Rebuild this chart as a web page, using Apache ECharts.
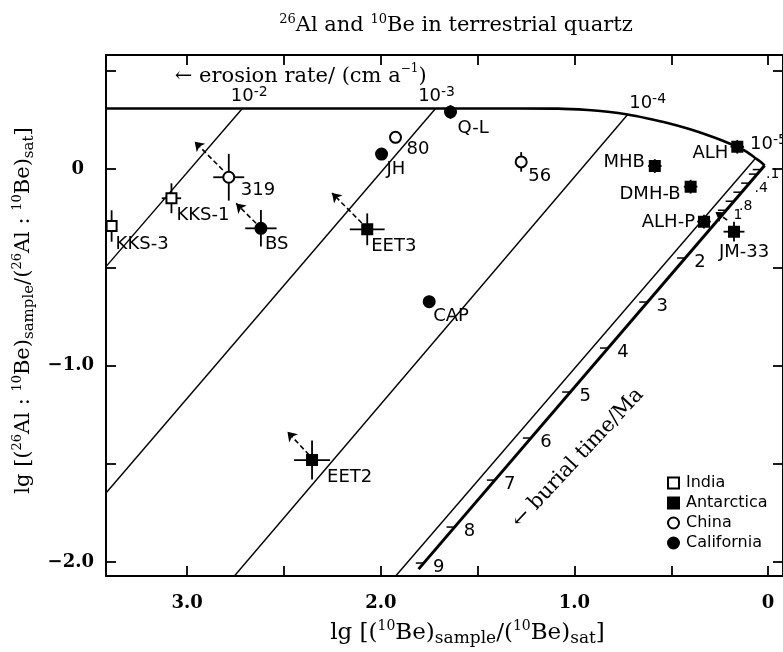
<!DOCTYPE html>
<html><head><meta charset="utf-8">
<script src="https://cdn.jsdelivr.net/npm/echarts@6/dist/echarts.min.js"></script>
<style>html,body{margin:0;padding:0;background:#fff}#chart{width:783px;height:652px}</style>
</head><body><div id="chart"></div>
<script>
// ---------------- data ----------------
const xTickVals = [0, 0.5, 1, 1.5, 2, 2.5, 3];
const xLabelVals = [0, 1, 2, 3];
const yTickVals = [0.5, 0, -0.5, -1, -1.5, -2];
const yLabelVals = [0, -1, -2];

// steady-state erosion curve
const steadyX = [3.419, 2.422, 1.650, 1.290, 1.085, 0.931, 0.828, 0.725, 0.622, 0.519, 0.416, 0.314, 0.237, 0.159, 0.108, 0.067, 0.041, 0.018];
const steadyY = [0.308, 0.308, 0.308, 0.308, 0.307, 0.300, 0.291, 0.277, 0.257, 0.234, 0.206, 0.173, 0.145, 0.112, 0.086, 0.056, 0.038, 0.018];

// erosion-rate burial trajectories (thin lines)
const erosionLabels = ['10^-2', '10^-3', '10^-4', '10^-5'];
const erosionLabelX = [2.679, 1.712, 0.622, 0.093];
const erosionLabelY = [0.377, 0.377, 0.341, 0.132];
const erosionStartX = [2.715, 1.717, 0.725, 0.067];
const erosionStartY = [0.308, 0.308, 0.277, 0.052];
const erosionEndX = [3.419, 3.419, 2.756, 1.923];
const erosionEndY = [-0.497, -1.649, -2.071, -2.071];

// burial line (no erosion, thick)
const burialLineX = [0.018, 1.805];
const burialLineY = [0.018, -2.036];
const burialTickLabels = ['.1', '', '.4', '', '.8', '1', '2', '3', '4', '5', '6', '7', '8', '9'];
const burialTickX = [0.038, 0.058, 0.098, 0.138, 0.178, 0.218, 0.429, 0.624, 0.827, 1.022, 1.225, 1.411, 1.619, 1.778];
const burialTickY = [-0.003, -0.026, -0.072, -0.118, -0.164, -0.210, -0.453, -0.677, -0.911, -1.135, -1.369, -1.583, -1.822, -2.005];

// samples
const indiaNames = ['KKS-3', 'KKS-1'];
const indiaX = [3.390, 3.081];
const indiaY = [-0.290, -0.149];
const indiaXErr = [0, 0.05];
const indiaYErr = [0.08, 0.076];

const antarcticaNames = ['EET3', 'EET2', 'MHB', 'DMH-B', 'ALH', 'ALH-P', 'JM-33'];
const antarcticaX = [2.070, 2.355, 0.585, 0.400, 0.159, 0.331, 0.176];
const antarcticaY = [-0.307, -1.481, 0.015, -0.090, 0.113, -0.268, -0.319];
const antarcticaXErr = [0.090, 0.093, 0.035, 0.035, 0.035, 0.035, 0.054];
const antarcticaYErr = [0.081, 0.099, 0.035, 0.035, 0.035, 0.035, 0.050];

const chinaNames = ['319', '80', '56'];
const chinaX = [2.785, 1.924, 1.275];
const chinaY = [-0.042, 0.161, 0.036];
const chinaXErr = [0.080, 0.025, 0.025];
const chinaYErr = [0.119, 0.030, 0.050];

const californiaNames = ['BS', 'JH', 'Q-L', 'CAP'];
const californiaX = [2.619, 1.996, 1.640, 1.750];
const californiaY = [-0.302, 0.076, 0.290, -0.675];
const californiaXErr = [0.081, 0.030, 0.030, 0.030];
const californiaYErr = [0.093, 0.030, 0.035, 0.030];

// dashed arrows (direction of correction)
const arrowFromX = [2.816, 2.644, 2.098, 2.370, 0.211];
const arrowFromY = [-0.005, -0.276, -0.275, -1.455, -0.260];
const arrowToX = [2.961, 2.747, 2.252, 2.482, 0.272];
const arrowToY = [0.139, -0.175, -0.122, -1.337, -0.219];

// annotation texts
const erosionTitle = 'erosion rate/ (cm a^-1)';
const erosionTitleX = 3.064, erosionTitleY = 0.472;
const burialTitle = 'burial time/Ma';
const burialTitleX = 0.982, burialTitleY = -1.471;

// ---------------- styles ----------------
const SERIF = '"DejaVu Serif", "Liberation Serif", serif';
const SANS = '"DejaVu Sans", "Liberation Sans", sans-serif';
const labelPlace = {
  'KKS-3': [4, 18, 'left'], 'KKS-1': [5, 17, 'left'], '319': [12, 13, 'left'], 'BS': [4, 16, 'left'],
  'EET3': [4, 17, 'left'], 'JH': [5, 15, 'left'], '80': [11, 12, 'left'], 'Q-L': [7, 16, 'left'],
  '56': [7, 14, 'left'], 'CAP': [4, 15, 'left'], 'EET2': [15, 17, 'left'], 'MHB': [-10, -4, 'right'],
  'DMH-B': [-10, 8, 'right'], 'ALH': [-9, 7, 'right'], 'ALH-P': [-9, 1, 'right'], 'JM-33': [-15, 21, 'left']
};

const xMax = 3.419, xMin = -0.077, yMax = 0.580, yMin = -2.071;

const supSubY = {
  n: { fontFamily: SERIF, fontSize: 21, lineHeight: 26, color: '#000' },
  sup: { fontFamily: SERIF, fontSize: 13, lineHeight: 14, verticalAlign: 'top', color: '#000' },
  sub: { fontFamily: SERIF, fontSize: 15, lineHeight: 15, verticalAlign: 'bottom', color: '#000' }
};
const supSubX = {
  n: { fontFamily: SERIF, fontSize: 23, lineHeight: 28, color: '#000' },
  sup: { fontFamily: SERIF, fontSize: 14, lineHeight: 15, verticalAlign: 'top', color: '#000' },
  sub: { fontFamily: SERIF, fontSize: 17, lineHeight: 16, verticalAlign: 'bottom', color: '#000' }
};
function sciSans(t) { // '10^-2' -> rich
  const p = t.split('^');
  return '{b|' + p[0] + '}{s|' + p[1] + '}';
}

function scatterSeries(name, names, xs, ys, symbol, filled) {
  return {
    type: 'scatter', name: name, z: 5,
    symbol: symbol, symbolSize: symbol === 'rect' ? 10 : 11,
    itemStyle: { color: filled ? '#000' : '#fff', borderColor: '#000', borderWidth: 2, opacity: 1 },
    data: names.map((n, i) => {
      const p = labelPlace[n];
      return { name: n, value: [xs[i], ys[i]],
        label: { offset: [p[0], p[1]], align: p[2] } };
    }),
    label: { show: true, position: 'inside', formatter: '{b}', color: '#000',
      fontFamily: SANS, fontSize: 18, verticalAlign: 'middle' },
    emphasis: { disabled: true }
  };
}

const errData = [];
[[indiaX, indiaY, indiaXErr, indiaYErr], [antarcticaX, antarcticaY, antarcticaXErr, antarcticaYErr],
 [chinaX, chinaY, chinaXErr, chinaYErr], [californiaX, californiaY, californiaXErr, californiaYErr]]
  .forEach(g => g[0].forEach((x, i) => errData.push([x, g[1][i], g[2][i], g[3][i]])));

function lineSeries(xs, ys, width) {
  return { type: 'line', data: xs.map((x, i) => [x, ys[i]]), showSymbol: false, symbol: 'none',
    lineStyle: { color: '#000', width: width }, silent: true, z: 2, animation: false };
}

const series = [];
series.push(Object.assign(lineSeries(steadyX, steadyY, 2.6), { smooth: 0.3 }));
erosionStartX.forEach((x, i) => series.push(lineSeries([x, erosionEndX[i]], [erosionStartY[i], erosionEndY[i]], 1.4)));
series.push(lineSeries(burialLineX, burialLineY, 3));

// burial time ticks
series.push({
  type: 'custom', silent: true, z: 3,
  data: burialTickX.map((x, i) => [x, burialTickY[i]]),
  renderItem(params, api) {
    const c = api.coord([api.value(0), api.value(1)]);
    return { type: 'line', shape: { x1: c[0] - 8, y1: c[1], x2: c[0], y2: c[1] },
      style: { stroke: '#000', lineWidth: 1.5 } };
  }
});
// burial tick labels
series.push({
  type: 'scatter', silent: true, symbolSize: 0, z: 6, itemStyle: { opacity: 1 },
  data: burialTickX.map((x, i) => {
    const t = burialTickLabels[i];
    const small = t.startsWith('.') || t === '1';
    return { value: [x, burialTickY[i]], name: t,
      label: { offset: small ? [12, 5] : [15, 4], fontSize: small ? 14 : 18 } };
  }),
  label: { show: true, position: 'inside', formatter: '{b}', color: '#000', fontFamily: SANS }
});

// error bars
series.push({
  type: 'custom', silent: true, z: 4, data: errData,
  renderItem(params, api) {
    const x = api.value(0), y = api.value(1), ex = api.value(2), ey = api.value(3);
    const ch = [];
    if (ex > 0) {
      const a = api.coord([x - ex, y]), b = api.coord([x + ex, y]);
      ch.push({ type: 'line', shape: { x1: a[0], y1: a[1], x2: b[0], y2: b[1] }, style: { stroke: '#000', lineWidth: 1.8 } });
    }
    if (ey > 0) {
      const a = api.coord([x, y - ey]), b = api.coord([x, y + ey]);
      ch.push({ type: 'line', shape: { x1: a[0], y1: a[1], x2: b[0], y2: b[1] }, style: { stroke: '#000', lineWidth: 1.8 } });
    }
    return { type: 'group', children: ch };
  }
});

// dashed arrows
series.push({
  type: 'lines', coordinateSystem: 'cartesian2d', silent: true, z: 4,
  symbol: ['none', 'arrow'], symbolSize: 9,
  lineStyle: { color: '#000', width: 1.6, type: [5, 3], opacity: 1 },
  data: arrowFromX.map((x, i) => ({ coords: [[x, arrowFromY[i]], [arrowToX[i], arrowToY[i]]] }))
});

// annotations
series.push({
  type: 'scatter', silent: true, symbolSize: 0, z: 6, itemStyle: { opacity: 1 },
  data: erosionLabels.map((t, i) => ({ value: [erosionLabelX[i], erosionLabelY[i]], name: t,
    label: { align: i === 3 ? 'left' : 'center' } })),
  label: { show: true, position: 'inside', color: '#000',
    formatter: p => sciSans(p.name),
    rich: { b: { fontFamily: SANS, fontSize: 18, lineHeight: 20, verticalAlign: 'bottom', color: '#000' },
            s: { fontFamily: SANS, fontSize: 14, lineHeight: 14, verticalAlign: 'top', color: '#000' } } }
});
series.push({
  type: 'scatter', silent: true, symbolSize: 0, z: 6, itemStyle: { opacity: 1 },
  data: [{ value: [erosionTitleX, erosionTitleY], name: erosionTitle }],
  label: { show: true, position: 'inside', align: 'left', color: '#000',
    formatter: () => '{n|\u2190 erosion rate/ (cm a}{sup|\u22121}{n|)}',
    rich: { n: { fontFamily: SERIF, fontSize: 21, lineHeight: 26, color: '#000' },
            sup: { fontFamily: SERIF, fontSize: 12, lineHeight: 16, verticalAlign: 'top', color: '#000' } } }
});
series.push({
  type: 'scatter', silent: true, symbolSize: 0, z: 6, itemStyle: { opacity: 1 },
  data: [{ value: [burialTitleX, burialTitleY], name: burialTitle }],
  label: { show: true, position: 'inside', align: 'center', rotate: 47, color: '#000',
    formatter: '\u2190 {b}', fontFamily: SERIF, fontSize: 21 }
});

series.push(scatterSeries('India', indiaNames, indiaX, indiaY, 'rect', false));
series.push(scatterSeries('Antarctica', antarcticaNames, antarcticaX, antarcticaY, 'rect', true));
series.push(scatterSeries('China', chinaNames, chinaX, chinaY, 'circle', false));
series.push(scatterSeries('California', californiaNames, californiaX, californiaY, 'circle', true));

const axisLine = { show: true, onZero: false, lineStyle: { color: '#000', width: 2 } };
const tickStyle = { lineStyle: { color: '#000', width: 1.8 } };
const tickFont = { color: '#000', fontFamily: '"DejaVu Serif", serif', fontWeight: 'bold', fontSize: 18 };

const option = {
  animation: false,
  backgroundColor: '#fff',
  title: {
    text: '{sup|26}{n|Al and }{sup|10}{n|Be in terrestrial quartz}',
    left: 451, top: 8, textAlign: 'center',
    textStyle: { rich: {
      n: { fontFamily: SERIF, fontSize: 21, fontWeight: 'normal', lineHeight: 26, color: '#000' },
      sup: { fontFamily: SERIF, fontSize: 13, fontWeight: 'normal', lineHeight: 14, verticalAlign: 'top', color: '#000' } } }
  },
  legend: {
    orient: 'vertical', left: 662, top: 470, itemWidth: 11, itemHeight: 11, itemGap: 4,
    selectedMode: false,
    textStyle: { fontFamily: SANS, fontSize: 16, lineHeight: 16, color: '#000', padding: [0, 0, 0, 2] },
    data: [{ name: 'India', icon: 'rect' }, { name: 'Antarctica', icon: 'rect' },
           { name: 'China', icon: 'circle' }, { name: 'California', icon: 'circle' }]
  },
  grid: { left: 106, right: -3, top: 55, bottom: 76, containLabel: false },
  xAxis: [
    { type: 'value', inverse: true, min: xMin, max: xMax, position: 'bottom',
      axisLine: axisLine, splitLine: { show: false },
      axisTick: Object.assign({ inside: true, length: 10, customValues: xTickVals }, tickStyle),
      axisLabel: Object.assign({ customValues: xLabelVals, margin: 18,
        formatter: v => v === 0 ? '0' : v.toFixed(1) }, tickFont),
      name: '{n|lg [(}{sup|10}{n|Be)}{sub|sample}{n|/(}{sup|10}{n|Be)}{sub|sat}{n|]}',
      nameLocation: 'middle', nameGap: 43,
      nameTextStyle: { rich: supSubX, padding: [0, 0, 0, 46] } },
    { type: 'value', inverse: true, min: xMin, max: xMax, position: 'top',
      axisLine: axisLine, splitLine: { show: false },
      axisTick: Object.assign({ inside: true, length: 10, customValues: xTickVals }, tickStyle),
      axisLabel: { show: false } }
  ],
  yAxis: [
    { type: 'value', min: yMin, max: yMax, position: 'left',
      axisLine: axisLine, splitLine: { show: false },
      axisTick: Object.assign({ inside: true, length: 10, customValues: yTickVals }, tickStyle),
      axisLabel: Object.assign({ customValues: yLabelVals, margin: 12,
        formatter: v => v === 0 ? '{z|0}' : '\u2212' + Math.abs(v).toFixed(1),
        rich: { z: Object.assign({ padding: [0, 10, 0, 0] }, tickFont) } }, tickFont),
      name: '{n|lg [(}{sup|26}{n|Al : }{sup|10}{n|Be)}{sub|sample}{n|/(}{sup|26}{n|Al : }{sup|10}{n|Be)}{sub|sat}{n|]}',
      nameLocation: 'middle', nameRotate: 90, nameGap: 56,
      nameTextStyle: { rich: supSubY, padding: [0, 0, 0, 10] } },
    { type: 'value', min: yMin, max: yMax, position: 'right',
      axisLine: axisLine, splitLine: { show: false },
      axisTick: Object.assign({ inside: true, length: 10, customValues: yTickVals }, tickStyle),
      axisLabel: { show: false } }
  ],
  series: series
};

const chart = echarts.init(document.getElementById('chart'), null, { renderer: 'canvas' });
chart.setOption(option);
</script>
</body></html>
